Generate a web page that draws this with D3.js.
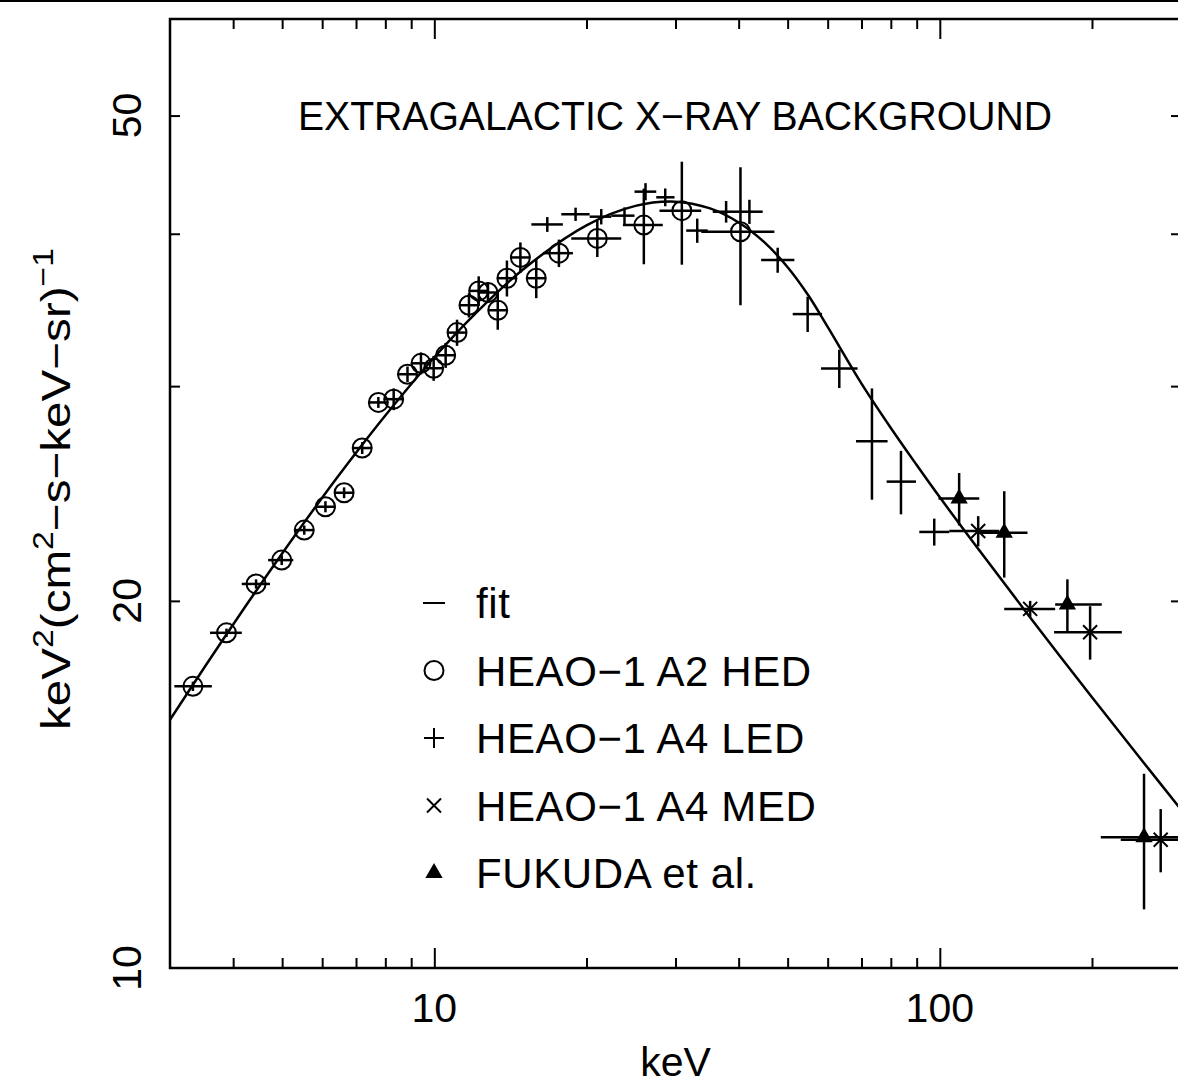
<!DOCTYPE html>
<html><head><meta charset="utf-8">
<script src="https://cdn.jsdelivr.net/npm/d3@7"></script>
<style>
body{margin:0;background:#fff;}
svg text{font-family:"Liberation Sans",Arial,Helvetica,sans-serif;fill:#000;}
</style></head><body>
<svg id="c" width="1178" height="1084"></svg>
<script>
// ---- data ----
const fitE = [3, 3.5, 4, 5, 6, 7, 8, 10, 12, 15, 20, 25, 30, 35, 40, 45, 50, 55, 60, 70, 80, 90, 100, 120, 150, 200, 250, 300];
const fitF = [15.98, 17.61, 19.13, 21.87, 24.30, 26.45, 28.38, 31.68, 34.34, 37.41, 40.64, 42.16, 42.50, 41.98, 40.86, 39.35, 37.55, 35.58, 33.55, 30.14, 27.72, 25.85, 24.32, 21.97, 19.45, 16.67, 14.83, 13.49];

const hedE   = [3.33,3.88,4.44,4.99,5.53,6.09,6.63,7.20,7.75,8.31,8.85,9.41,9.97,10.53,11.09,11.71,12.24,12.77,13.35,13.92,14.80,15.91,17.64,21.01,25.97,30.88,40.33];
const hedF   = [17.02,18.83,20.65,21.60,22.86,23.89,24.53,26.69,29.09,29.27,30.68,31.32,31.03,31.80,33.19,34.95,35.91,35.80,34.62,36.78,38.25,36.78,38.56,39.65,40.66,41.78,40.15];
const hedErr = [0.15,0.15,0.18,0.2,0.2,0.25,0.25,0.3,0.3,0.6,0.45,0.65,0.73,0.75,0.82,0.8,1.0,0.7,1.25,1.25,1.1,1.36,1.0,1.37,2.9,4.05,5.2];
const hedElo = [3.06,3.60,4.16,4.69,5.28,5.82,6.34,6.88,7.41,7.95,8.46,9.00,9.53,10.1,10.6,11.2,11.7,12.2,12.8,13.3,14.2,15.2,16.4,18.66,23.61,27.89,33.73];
const hedEhi = [3.63,4.16,4.73,5.26,5.78,6.37,6.93,7.52,8.10,8.68,9.25,9.84,10.4,11.0,11.6,12.2,12.8,13.35,13.95,14.55,15.44,16.6,18.8,23.43,28.31,33.73,47.07];

const ledE   = [16.73,19.03,21.39,23.78,26.17,28.63,33.12,37.78,42.01,47.78,54.77,63.26,73.41,83.78,97.49];
const ledF   = [40.71,41.50,41.31,41.39,43.31,42.85,40.24,41.70,41.70,38.06,34.37,31.01,27.04,25.05,22.78];
const ledErr = [0.57,0.52,0.6,0.65,0.7,0.72,0.92,0.85,0.95,0.9,1.14,1.12,2.83,1.5,0.58];
const ledElo = [15.56,17.83,20.29,22.39,24.89,27.48,31.50,35.55,40.14,44.31,51.17,58.21,68.26,78.47,91.07];
const ledEhi = [17.96,20.29,22.39,24.89,27.48,29.87,34.75,40.14,44.63,51.56,58.48,68.76,78.83,89.71,104.4];

const medE   = [119.1,150.9,198.3,273.5];
const medF   = [22.82,19.70,18.85,12.74];
const medErr = [0.65,0.3,0.95,0.76];
const medElo = [104.4,134.1,168.3,228.0];
const medEhi = [131.1,169.1,229.1,320];

const fukE   = [109.2,134.1,178.8,253.5];
const fukF   = [24.26,22.75,19.86,12.80];
const fukErr = [1.2,1.85,0.97,1.63];
const fukElo = [99.4,119.7,169.1,208.2];
const fukEhi = [119.7,149.1,209.1,310];

const xMajorTicks = [10, 100];
const xMinorTicks = [4,5,6,7,8,9,20,30,40,50,60,70,80,90,200];
const yTicks = [20, 30, 40, 50];
const yTickLabels = [10, 20, 50];
const legendLabels = ["fit", "HEAO\u22121 A2 HED", "HEAO\u22121 A4 LED", "HEAO\u22121 A4 MED", "FUKUDA et al."];
const titleText = "EXTRAGALACTIC X\u2212RAY BACKGROUND";
const xTitle = "keV";

// ---- drawing ----
const svg = d3.select("#c");
const L = 170, R = 1181, T = 19, B = 968;
const x = d3.scaleLog().domain([3, 300]).range([L, R]);
const y = d3.scaleLog().domain([10, 60]).range([B, T]);
const FS = 41;
const LW = 2.5;

svg.append("rect").attr("x",0).attr("y",0).attr("width",1178).attr("height",2).attr("fill","#000");

svg.append("defs").append("clipPath").attr("id","clip")
  .append("rect").attr("x",L).attr("y",T).attr("width",R-L).attr("height",B-T);

// axes ticks
function styleAxis(g){ g.select(".domain").remove(); g.selectAll(".tick line").attr("stroke","#000").attr("stroke-width",2); g.selectAll(".tick text").remove(); }
svg.append("g").attr("transform",`translate(0,${B})`).call(d3.axisBottom(x).tickValues(xMinorTicks).tickSize(-10)).call(styleAxis);
svg.append("g").attr("transform",`translate(0,${B})`).call(d3.axisBottom(x).tickValues(xMajorTicks).tickSize(-20)).call(styleAxis);
svg.append("g").attr("transform",`translate(0,${T})`).call(d3.axisTop(x).tickValues(xMinorTicks).tickSize(-10)).call(styleAxis);
svg.append("g").attr("transform",`translate(0,${T})`).call(d3.axisTop(x).tickValues(xMajorTicks).tickSize(-20)).call(styleAxis);
svg.append("g").attr("transform",`translate(${L},0)`).call(d3.axisLeft(y).tickValues(yTicks).tickSize(-10)).call(styleAxis);
svg.append("g").attr("transform",`translate(${R},0)`).call(d3.axisRight(y).tickValues(yTicks).tickSize(-10)).call(styleAxis);

// frame
svg.append("rect").attr("x",L).attr("y",T).attr("width",R-L).attr("height",B-T)
  .attr("fill","none").attr("stroke","#000").attr("stroke-width",LW);

// tick labels
svg.selectAll(".xl").data(xMajorTicks).enter().append("text")
  .attr("x",d=>x(d)).attr("y",1022).attr("text-anchor","middle").attr("font-size",FS).text(d=>d);
svg.selectAll(".yl").data(yTickLabels).enter().append("text")
  .attr("transform",d=>`translate(141,${y(d)}) rotate(-90)`).attr("text-anchor","middle").attr("font-size",FS).text(d=>d);

// axis titles
svg.append("text").attr("x",(L+R)/2).attr("y",1076).attr("text-anchor","middle").attr("font-size",FS).text(xTitle);
const yt = svg.append("text").attr("transform","translate(70,489) rotate(-90)").attr("text-anchor","middle")
  .attr("font-size",FS).attr("textLength",482).attr("lengthAdjust","spacingAndGlyphs");
yt.append("tspan").text("keV");
yt.append("tspan").attr("dy",-17).attr("font-size",29).text("2");
yt.append("tspan").attr("dy",17).text("(cm");
yt.append("tspan").attr("dy",-17).attr("font-size",29).text("2");
yt.append("tspan").attr("dy",17).text("\u2212s\u2212keV\u2212sr)");
yt.append("tspan").attr("dy",-17).attr("font-size",29).text("\u22121");

// title
svg.append("text").attr("x",298).attr("y",130).attr("font-size",40)
  .attr("textLength",754).attr("lengthAdjust","spacingAndGlyphs").text(titleText);

// plot area
const plot = svg.append("g").attr("clip-path","url(#clip)");

// fit line
const fitData = fitE.map((e,i)=>[e, fitF[i]]);
plot.append("path").datum(fitData)
  .attr("d", d3.line().x(d=>x(d[0])).y(d=>y(d[1])).curve(d3.curveCatmullRom))
  .attr("fill","none").attr("stroke","#000").attr("stroke-width",LW);

function errorBars(E, F, Err, Elo, Ehi){
  const g = plot.append("g").attr("stroke","#000").attr("stroke-width",LW);
  E.forEach((e,i)=>{
    g.append("line").attr("x1",x(Elo[i])).attr("x2",x(Ehi[i])).attr("y1",y(F[i])).attr("y2",y(F[i]));
    g.append("line").attr("x1",x(e)).attr("x2",x(e)).attr("y1",y(F[i]-Err[i])).attr("y2",y(F[i]+Err[i]));
  });
}
errorBars(hedE, hedF, hedErr, hedElo, hedEhi);
errorBars(ledE, ledF, ledErr, ledElo, ledEhi);
errorBars(medE, medF, medErr, medElo, medEhi);
errorBars(fukE, fukF, fukErr, fukElo, fukEhi);

// markers
plot.selectAll(".hed").data(hedE).enter().append("circle")
  .attr("cx",d=>x(d)).attr("cy",(d,i)=>y(hedF[i])).attr("r",9.5)
  .attr("fill","none").attr("stroke","#000").attr("stroke-width",2);
const cross = s => `M${-s},${-s}L${s},${s}M${-s},${s}L${s},${-s}`;
plot.selectAll(".med").data(medE).enter().append("path")
  .attr("transform",(d,i)=>`translate(${x(d)},${y(medF[i])})`).attr("d",cross(7))
  .attr("stroke","#000").attr("stroke-width",2);
const tri = d3.symbol().type(d3.symbolTriangle).size(130);
plot.selectAll(".fuk").data(fukE).enter().append("path")
  .attr("transform",(d,i)=>`translate(${x(d)},${y(fukF[i])})`).attr("d",tri).attr("fill","#000");

// legend
const lx = 434, ly0 = 603, ldy = 67.5;
const lg = svg.append("g");
legendLabels.forEach((t,i)=>{
  const cy = ly0 + i*ldy;
  lg.append("text").attr("x",476).attr("y",cy+15).attr("font-size",42).attr("letter-spacing",0.6).text(t);
});
lg.append("line").attr("x1",lx-11).attr("x2",lx+11).attr("y1",ly0).attr("y2",ly0).attr("stroke","#000").attr("stroke-width",2);
lg.append("circle").attr("cx",lx).attr("cy",ly0+ldy).attr("r",9.5).attr("fill","none").attr("stroke","#000").attr("stroke-width",2);
lg.append("path").attr("transform",`translate(${lx},${ly0+2*ldy})`).attr("d","M-10,0L10,0M0,-10L0,10").attr("stroke","#000").attr("stroke-width",2);
lg.append("path").attr("transform",`translate(${lx},${ly0+3*ldy})`).attr("d",cross(7)).attr("stroke","#000").attr("stroke-width",2);
lg.append("path").attr("transform",`translate(${lx},${ly0+4*ldy})`).attr("d",tri).attr("fill","#000");
</script>
</body></html>
